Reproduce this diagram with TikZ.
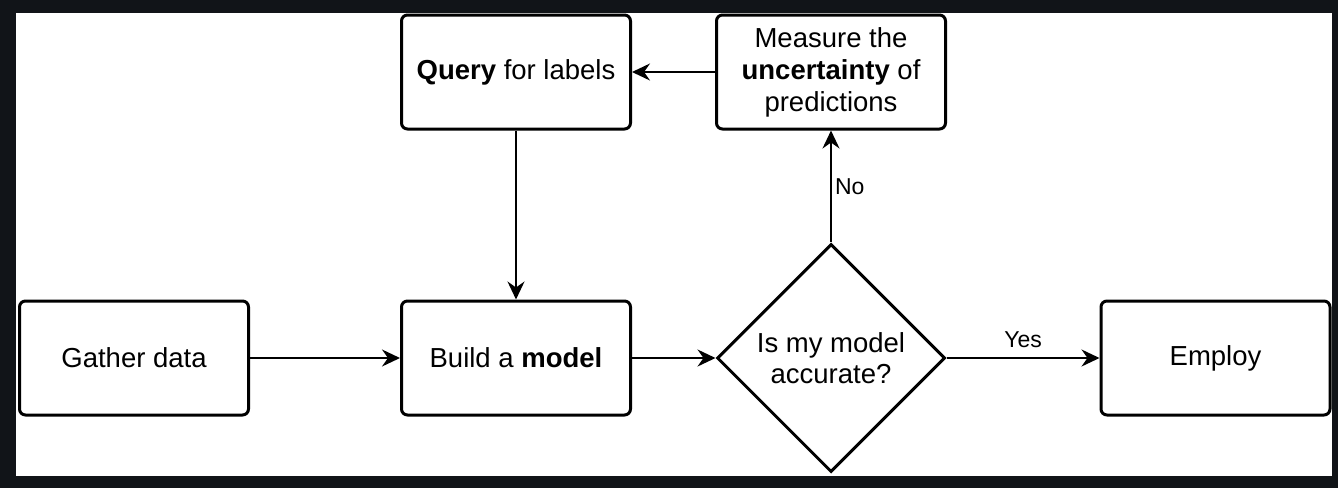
\documentclass[tikz,border=0pt]{standalone}
\usepackage{fontspec}
\setmainfont{Liberation Sans}
\usetikzlibrary{shapes.geometric,arrows.meta}
\definecolor{frame}{HTML}{111418}
\begin{document}
\begin{tikzpicture}[x=1pt,y=-1pt,
  box/.style={draw=black, line width=3pt, rounded corners=6pt, fill=white,
    minimum width=229pt, minimum height=114pt, inner sep=0pt, align=center,
    font=\fontsize{27.5}{32}\selectfont},
  decision/.style={draw=black, line width=3pt, diamond, fill=white, aspect=1,
    minimum width=228pt, minimum height=228pt, inner sep=0pt, align=center,
    font=\fontsize{27.5}{31}\selectfont},
  conn/.style={draw=black, line width=2pt, -{Stealth[length=18pt,width=17pt,inset=6pt]}},
  lbl/.style={font=\fontsize{23}{26}\selectfont, inner sep=0pt}
]
\useasboundingbox (0,0) rectangle (1338,488);
\fill[frame] (0,0) rectangle (1338,488);
\fill[white] (16,13) rectangle (1332,476);

\node[box] (gather) at (134,358) {Gather data};
\node[box] (build) at (516,358) {Build a \textbf{model}};
\node[box] (query) at (516,72) {\textbf{Query} for labels};
\node[box] (measure) at (831,72) {Measure the\\\textbf{uncertainty} of\\predictions};
\node[decision] (dec) at (831,358) {Is my model\\accurate?};
\node[box] (employ) at (1215.5,358) {Employ};

\draw[conn] (gather) -- (build);
\draw[conn] (build) -- (dec);
\draw[conn] (dec) -- node[lbl, above, yshift=9pt] {Yes} (employ);
\draw[conn] (dec) -- node[lbl, right, xshift=3pt, pos=0.5] {No} (measure);
\draw[conn] (measure) -- (query);
\draw[conn] (query) -- (build);
\end{tikzpicture}
\end{document}
